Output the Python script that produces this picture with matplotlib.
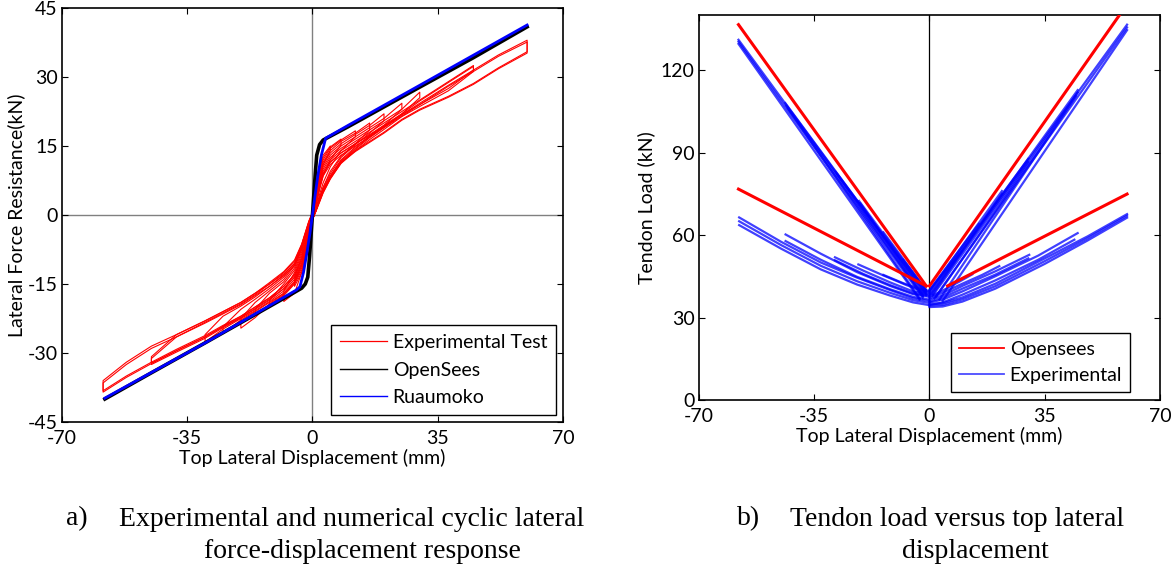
import matplotlib
matplotlib.use("Agg")
import matplotlib.pyplot as plt
from matplotlib.lines import Line2D

plt.rcParams["font.family"] = ["Lato", "DejaVu Sans"]
plt.rcParams["axes.unicode_minus"] = False

# ---------------- a) lateral force vs top displacement ----------------
pos_grid = [0, 1, 2, 3, 5, 8, 12, 16, 20, 25, 30, 38, 45, 52, 60]
neg_grid = [0, -1, -2, -3, -5, -8, -12, -16, -20, -25, -30, -38, -45, -52, -58.5]

# experimental loops, force on the grid going out to the peak, then back
exp_pos_load = [
    [0, 5, 10, 13, 15],
    [0, 5, 9.5, 12.5, 14.8, 16.5],
    [0, 4.5, 9, 12, 14.5, 16.3, 18.3],
    [0, 4, 8.5, 11.5, 14, 16, 17.8, 20],
    [0, 4, 8, 11, 13.5, 15.5, 17.5, 19.5, 22],
    [0, 3.5, 7.5, 10.5, 13, 15, 17, 19, 21, 24.3],
    [0, 3.5, 7, 10, 12.5, 14.5, 16.5, 18.5, 20.5, 23, 26.7],
    [0, 3, 6.5, 9.5, 12, 14, 16, 18, 20, 22.5, 25, 29, 32.5],
    [0, 2.5, 6, 9, 11.5, 13.5, 15.5, 17.5, 19.5, 22, 24.8, 28.8, 32.3],
    [0, 2.5, 6, 9, 11.5, 13.5, 15.5, 17.3, 19.3, 21.8, 24.3, 28.2, 31.5, 34.8, 38],
    [0, 2, 5.5, 8.5, 11, 13, 15, 17, 19, 21.5, 24, 28, 31.2, 34.5, 37.6],
]
exp_pos_unload = [
    [14, 11, 7.5, 3.5, 0],
    [15.2, 12, 8.5, 6, 2.5, -0.5],
    [17, 14, 10.5, 7, 4.5, 1.5, -0.5],
    [18.5, 15.5, 12.8, 9.5, 6, 4, 1, -1],
    [20.5, 17.8, 15.3, 12.5, 9, 6, 3.5, 1, -1],
    [23, 19.5, 17.2, 14.8, 12, 8.5, 5.5, 3.5, 1, -1],
    [25.5, 22, 19.2, 17, 14.5, 11.8, 8.5, 5.5, 3.3, 1, -1],
    [31.5, 27.5, 24, 21.8, 19, 16.8, 14.3, 11.5, 8.2, 5.2, 3.2, 1, -1],
    [31.2, 27, 23.6, 21.4, 18.6, 16.4, 14, 11.2, 8, 5, 3, 1, -1],
    [35.5, 32, 28.6, 25.8, 23, 20.8, 18, 16, 14, 11.5, 8, 5, 3, 1, -1],
    [35.2, 31.8, 28.4, 25.6, 22.8, 20.6, 17.8, 15.8, 13.8, 11.3, 7.8, 4.8, 2.8, 0.8, -1],
]
exp_neg_load = [
    [0, -5, -9.5, -12.5, -15.5],
    [0, -5, -9.5, -12.5, -17, -18.8],
    [0, -4.5, -9, -12, -15, -17.5, -19.8],
    [0, -4.5, -8.5, -11.5, -14.8, -17.3, -19.5, -21.8],
    [0, -4, -8, -11, -14.5, -17, -19.3, -22.3, -24.6],
    [0, -4, -8, -11, -14.5, -17, -19, -21, -22.8, -25.8],
    [0, -3.5, -7.5, -10.5, -14, -16.5, -18.8, -20.8, -22.5, -24.8, -27.6],
    [0, -3.5, -7, -10, -13.5, -16, -18.5, -20.5, -22.3, -24.5, -26.8, -29.8, -32.5],
    [0, -3, -6.5, -9.5, -13, -15.5, -18, -20, -22, -24.2, -26.5, -29.5, -32.2],
    [0, -3, -6.5, -9.5, -13.5, -16, -18.3, -20.3, -22.3, -24.3, -26.5, -29.5, -32.3, -35.3, -38.5],
    [0, -2.5, -6, -9, -13, -15.5, -18, -20, -22, -24, -26.2, -29.2, -32, -35, -38.2],
]
exp_neg_unload = [
    [-14, -10.5, -7, -3.5, 0],
    [-16.5, -12.5, -8.5, -5.5, -2.5, 0.5],
    [-18.5, -15, -12, -8, -5, -2, 0.5],
    [-20.5, -17, -14.5, -11.5, -7.5, -4.8, -2, 0.5],
    [-22.5, -19, -16.5, -14, -11, -7.3, -4.5, -2, 0.5],
    [-24.3, -20.5, -18.3, -16, -13.5, -10.8, -7, -4.5, -2, 0.5],
    [-26, -22, -19.8, -17.8, -15.5, -13, -10.5, -7, -4.3, -1.8, 0.5],
    [-31.2, -26.5, -23.3, -21.3, -19.3, -17.3, -15, -12.5, -10, -6.5, -4, -1.5, 0.5],
    [-30.8, -26, -23, -21, -19, -17, -14.7, -12.3, -9.8, -6.3, -3.8, -1.3, 0.5],
    [-36, -32, -28.5, -26, -23, -21, -19, -17, -15, -12.8, -10.5, -6.5, -4, -1.5, 0.5],
    [-36.5, -32.5, -29, -26.5, -23.5, -21.5, -19.5, -17.5, -15.5, -13.2, -11, -7, -4.5, -2, 0.5],
]

opensees_x = [-58, -45, -30, -15, -5, -3, -2, -1.3, -0.8, 0, 0.8, 1.2, 2, 3, 10, 30, 45, 60]
opensees_y = [-40, -34.3, -27.8, -21.2, -16.8, -15.9, -15, -13.5, -9, 0, 9, 13, 15.3, 16.3, 19.2, 27.8, 34.2, 40.9]
ruaumoko_x = [-58, -30, -10, -4.5, -3.5, -2.5, -1.5, -0.7, 0, 0.7, 1.5, 2.5, 3.7, 10, 30, 60]
ruaumoko_y = [-39.8, -27.8, -18.8, -16.3, -15.6, -12.5, -8, -4, 0, 4, 8.5, 13, 16.7, 19.5, 28.2, 41.3]

# ---------------- b) tendon load vs top displacement ----------------
os_lines_x = [[-58, -1], [-58, -1], [0, 58], [5.5, 60]]
os_lines_y = [[136.5, 41.5], [76.7, 41.5], [41.5, 140.5], [41.5, 74.9]]

# experimental, tendon that is stretched (steep branches)
steep_x = [[0.5, 60], [4, 60], [1.5, 60], [0, 45], [3, 44.5], [2, 45], [0, 30], [1, 30],
           [0, 22], [1, 22], [0, 15], [0, 9],
           [-1, -58], [-3, -58], [-2, -58], [-1, -43.8], [-3, -43], [-2, -43.5],
           [-1, -28.5], [-2, -28], [-1, -21.4], [-2, -21], [-1, -14], [-1, -8]]
steep_y = [[38.5, 136.5], [36, 134.5], [37, 135.5], [38, 112.7], [36.5, 110.5], [37.5, 111.8],
           [39, 87.7], [38, 86.5], [39.5, 76], [38.5, 75], [40, 64], [40, 53],
           [38, 131], [36.5, 129.5], [37.2, 130.3], [38.5, 108], [37, 106], [37.8, 107],
           [39, 83], [38, 82], [39.5, 72.4], [38.5, 71.5], [40, 61], [40, 51]]
# experimental, tendon on the other side (shallow branches)
flat_x = [
    [-57.8, -45, -33, -22, -12, -5, 0],
    [-57.8, -45, -33, -22, -12, -5, 0],
    [-57.8, -45, -33, -22, -12, -5, 0],
    [-43.7, -33, -22, -12, -5, 0],
    [-43.7, -33, -22, -12, -5, 0],
    [-28.7, -20, -12, -5, 0],
    [-28.7, -20, -12, -5, 0],
    [-21.6, -14, -7, -2, 0],
    [-14, -8, -3, 0],
    [0, 4, 10, 20, 35, 48, 60],
    [0, 4, 10, 20, 35, 48, 60],
    [0, 4, 10, 20, 35, 48, 60],
    [0, 4, 10, 20, 33, 45],
    [0, 4, 10, 20, 33, 44],
    [0, 4, 10, 20, 30.3],
    [0, 4, 10, 20, 30],
    [0, 4, 10, 16, 21.2],
    [0, 4, 9, 13],
]
flat_y = [
    [63.6, 55, 47.5, 42, 38, 35.5, 34.5],
    [66.4, 57.5, 50, 44.5, 40, 37, 36],
    [65, 56.3, 48.8, 43.2, 39, 36.3, 35.3],
    [60.2, 53.2, 46.5, 41.5, 38.5, 37.5],
    [57.8, 51, 44.8, 40.3, 37.5, 36.5],
    [51.9, 47, 42.8, 39.5, 38.5],
    [50.8, 45.8, 41.8, 38.8, 38],
    [49.3, 45.3, 41.8, 39.5, 39],
    [45.5, 42.5, 40.5, 39.5],
    [33.8, 34, 35.8, 40.5, 49.5, 58, 66.3],
    [35, 35.2, 37.3, 42.3, 51.5, 59.5, 67.6],
    [34.4, 34.6, 36.6, 41.4, 50.5, 58.8, 67],
    [35.5, 36.5, 39.5, 45, 52.5, 60.7],
    [34.5, 35.5, 38.3, 43.5, 51, 58.3],
    [36.5, 38, 41.5, 46.8, 52.8],
    [35.8, 37.2, 40.5, 45.6, 51.5],
    [37, 39, 42.3, 45.5, 48.7],
    [37.5, 39.8, 43, 45.7],
]

RED = "#ff0000"
BLUE = "#0000ff"
FS = 14

fig = plt.figure(figsize=(11.71, 5.67), dpi=100)
ax1 = fig.add_axes([0.0529, 0.2557, 0.4278, 0.7302])
ax2 = fig.add_axes([0.5969, 0.2945, 0.3937, 0.6790])

# --- panel a ---
ax1.axvline(0, color="#808080", lw=1.0, zorder=1)
ax1.axhline(0, color="#808080", lw=1.0, zorder=1)
for load, unload in zip(exp_pos_load, exp_pos_unload):
    n = len(load)
    ax1.plot(pos_grid[:n] + pos_grid[:n][::-1], load + unload, color=RED, lw=0.8, zorder=2)
for load, unload in zip(exp_neg_load, exp_neg_unload):
    n = len(load)
    ax1.plot(neg_grid[:n] + neg_grid[:n][::-1], load + unload, color=RED, lw=0.8, zorder=2)
ax1.plot(opensees_x, opensees_y, color="black", lw=2.6, zorder=3)
ax1.plot(ruaumoko_x, ruaumoko_y, color=BLUE, lw=2.0, zorder=4)

ax1.set_xlim(-70, 70)
ax1.set_ylim(-45, 45)
ax1.set_xticks([-70, -35, 0, 35, 70])
ax1.set_yticks([-45, -30, -15, 0, 15, 30, 45])
ax1.set_xlabel("Top Lateral Displacement (mm)", fontsize=FS, labelpad=1)
ax1.set_ylabel("Lateral Force Resistance(kN)", fontsize=FS, labelpad=2)

h1 = [Line2D([], [], color=RED, lw=0.9),
      Line2D([], [], color="black", lw=1.0),
      Line2D([], [], color=BLUE, lw=1.0)]
leg1 = ax1.legend(h1, ["Experimental Test", "OpenSees", "Ruaumoko"], loc="lower right",
                  bbox_to_anchor=(0.986, 0.017), borderaxespad=0, fontsize=FS,
                  handlelength=2.4, handletextpad=0.3, borderpad=0.45, labelspacing=0.55,
                  fancybox=False, framealpha=1, edgecolor="black")
leg1.get_frame().set_linewidth(1.0)

# --- panel b ---
ax2.axvline(0, color="black", lw=0.9, zorder=1)
for xs, ys in zip(steep_x, steep_y):
    ax2.plot(xs, ys, color=BLUE, lw=1.6, alpha=0.75, zorder=2)
for xs, ys in zip(flat_x, flat_y):
    ax2.plot(xs, ys, color=BLUE, lw=1.6, alpha=0.75, zorder=2)
for xs, ys in zip(os_lines_x, os_lines_y):
    ax2.plot(xs, ys, color=RED, lw=2.2, zorder=3)

ax2.set_xlim(-70, 70)
ax2.set_ylim(0, 140)
ax2.set_xticks([-70, -35, 0, 35, 70])
ax2.set_yticks([0, 30, 60, 90, 120])
ax2.set_xlabel("Top Lateral Displacement (mm)", fontsize=FS, labelpad=1)
ax2.set_ylabel("Tendon Load (kN)", fontsize=FS, labelpad=4)

h2 = [Line2D([], [], color=RED, lw=1.3),
      Line2D([], [], color=BLUE, lw=1.3, alpha=0.7)]
leg2 = ax2.legend(h2, ["Opensees", "Experimental"], loc="lower right",
                  bbox_to_anchor=(0.935, 0.022), borderaxespad=0, fontsize=FS,
                  handlelength=2.3, handletextpad=0.3, borderpad=0.4, labelspacing=0.45,
                  fancybox=False, framealpha=1, edgecolor="black")
leg2.get_frame().set_linewidth(1.0)

for ax in (ax1, ax2):
    ax.tick_params(direction="in", top=True, right=True, length=4, width=0.8,
                   labelsize=FS, pad=3)
    ax.tick_params(axis="x", pad=6)
    for sp in ax.spines.values():
        sp.set_linewidth(1.2)

# captions
cap = dict(family=["Liberation Serif", "DejaVu Serif"], fontsize=20, va="center")
fig.text(66 / 1171, 1 - 519 / 567, "a)", ha="left", **cap)
fig.text(352 / 1171, 1 - 519 / 567, "Experimental and numerical cyclic lateral", ha="center", **cap)
fig.text(362 / 1171, 1 - 552 / 567, "force-displacement response", ha="center", **cap)
fig.text(737 / 1171, 1 - 519 / 567, "b)", ha="left", **cap)
fig.text(957 / 1171, 1 - 519 / 567, "Tendon load versus top lateral", ha="center", **cap)
fig.text(975 / 1171, 1 - 552 / 567, "displacement", ha="center", **cap)

fig.savefig("out.png", dpi=100)
